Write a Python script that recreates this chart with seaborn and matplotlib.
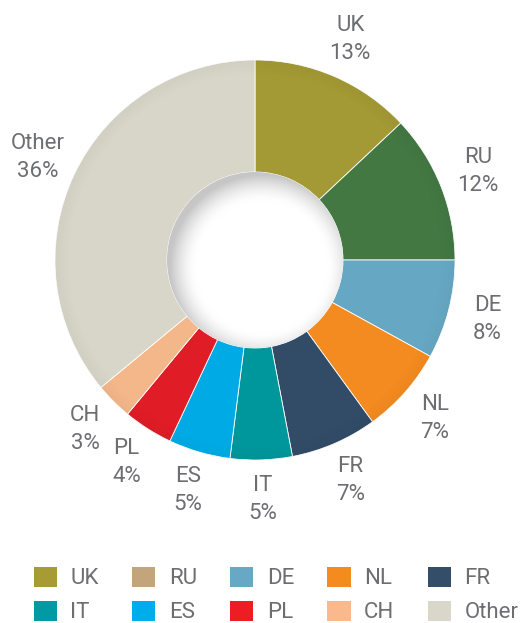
import matplotlib
matplotlib.use("Agg")
import matplotlib.pyplot as plt
import seaborn as sns
import numpy as np
from matplotlib.patches import Patch, Circle, Wedge

# data
countries = ['UK', 'RU', 'DE', 'NL', 'FR', 'IT', 'ES', 'PL', 'CH', 'Other']
shares = [13, 12, 8, 7, 7, 5, 5, 4, 3, 36]
slice_colors = ['#a39a35', '#437843', '#66a8c4', '#f38b20', '#324c68',
                '#00979c', '#00abe5', '#e01d27', '#f3b78a', '#d8d6c8']
# the legend in the original uses a tan swatch for RU
legend_colors = ['#a79c34', '#c4a57b', '#67a8c4', '#f58a1f', '#344e6a',
                 '#009aa4', '#00adec', '#ee1c25', '#f9b98d', '#d9d7c9']

sns.set_theme(style="white")
plt.rcParams['font.family'] = ['Roboto', 'DejaVu Sans']
text_color = '#6d6e71'

W, H = 528, 623
fig = plt.figure(figsize=(W / 100, H / 100), dpi=100)
fig.patch.set_facecolor('white')

# pie axes: centre (255, 260) px, radius 200 px
cx, cy, R = 255, 260, 200
ax = fig.add_axes([(cx - R) / W, (H - cy - R) / H, 2 * R / W, 2 * R / H])
ax.axis('off')

hole = 0.44
labels = [f"{c}\n{s}%" for c, s in zip(countries, shares)]
wedges, texts = ax.pie(shares, colors=slice_colors, startangle=90, counterclock=False,
                       labels=labels, labeldistance=1.2, radius=1,
                       wedgeprops=dict(width=1 - hole, edgecolor='white', linewidth=0.6),
                       textprops=dict(ha='center', va='center', fontsize=16,
                                      color=text_color, linespacing=1.45))

# soft shading along the outer rim of the ring
for i, r in enumerate(np.linspace(1.0, 0.94, 8)):
    ax.add_patch(Wedge((0, 0), r, 0, 360, width=0.008, color='black',
                       alpha=0.03 * (8 - i) / 8, lw=0))

# inset shadow inside the hole, heavier towards the upper left
n = 300
g = np.linspace(-hole, hole, n)
xx, yy = np.meshgrid(g, g[::-1])
d = np.hypot(xx - 0.035, yy + 0.035)
shade = np.clip((d - 0.33) / 0.13, 0, 1) ** 1.6
img = np.ones((n, n, 3)) * (1 - 0.22 * shade)[..., None]
im = ax.imshow(img, extent=[-hole, hole, -hole, hole], zorder=3, interpolation='bilinear')
im.set_clip_path(Circle((0, 0), hole, transform=ax.transData))
ax.set_xlim(-1, 1)
ax.set_ylim(-1, 1)
ax.set_aspect('equal')

# legend, ordered so that rows read left to right
order = [0, 5, 1, 6, 2, 7, 3, 8, 4, 9]
handles = [Patch(facecolor=legend_colors[i], edgecolor='none', label=countries[i]) for i in order]
leg = fig.legend(handles=handles, ncol=5, loc='center', bbox_to_anchor=(276 / W, 1 - 595 / H),
                 frameon=False, fontsize=16, handlelength=1.05, handleheight=1.05,
                 handletextpad=0.6, columnspacing=1.5, labelspacing=0.5,
                 labelcolor=text_color, borderaxespad=0, borderpad=0)

fig.savefig('out.png', dpi=100, facecolor='white')
